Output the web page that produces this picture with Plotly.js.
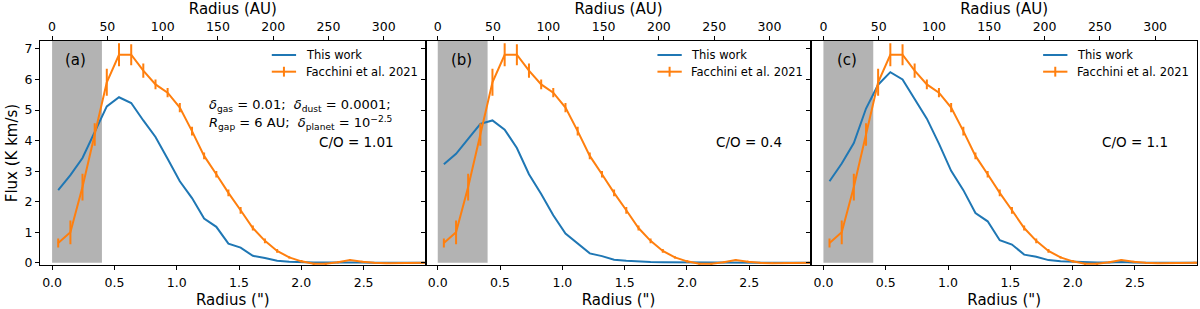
<!DOCTYPE html>
<html><head><meta charset="utf-8">
<script src="https://cdn.plot.ly/plotly-3.0.1.min.js"></script>
<style>html,body{margin:0;padding:0;background:#fff}</style>
</head><body><div id="chart" style="width:1200px;height:309px"></div>
<script>
// Radial positions (arcsec)
const radius = [0.049, 0.147, 0.244, 0.342, 0.439, 0.537, 0.635, 0.732, 0.830, 0.927, 1.025, 1.123, 1.220, 1.318, 1.415, 1.513, 1.611, 1.708, 1.806, 1.903, 2.001, 2.099, 2.196, 2.294, 2.391, 2.489, 2.587, 2.684, 2.782, 2.879, 2.977, 3.074];
// Facchini et al. 2021 observed profile and its errors
const facchiniFlux = [0.65, 1.00, 2.48, 4.20, 5.91, 6.81, 6.81, 6.29, 5.84, 5.57, 5.08, 4.31, 3.50, 2.90, 2.29, 1.72, 1.14, 0.72, 0.39, 0.18, 0.05, -0.03, -0.03, 0.02, 0.09, 0.04, 0.00, -0.01, 0.00, 0.00, 0.01, 0.01];
const facchiniErr = [0.15, 0.39, 0.44, 0.37, 0.44, 0.38, 0.34, 0.23, 0.16, 0.15, 0.15, 0.14, 0.11, 0.11, 0.11, 0.11, 0.08, 0.08, 0.06, 0.04, 0.04, 0.03, 0.03, 0.03, 0.03, 0.03, 0.03, 0.03, 0.03, 0.03, 0.03, 0.03];
// This work, three models
const fluxA = [2.38, 2.87, 3.43, 4.28, 5.12, 5.42, 5.23, 4.66, 4.12, 3.41, 2.67, 2.12, 1.45, 1.18, 0.63, 0.50, 0.23, 0.16, 0.07, 0.04, 0.02, 0.01, 0.01, 0.01, 0.03, 0.01, 0.00, 0.00, 0.00, 0.00, 0.00, 0.00];
const fluxB = [3.23, 3.57, 4.06, 4.55, 4.66, 4.36, 3.76, 2.90, 2.25, 1.56, 0.96, 0.63, 0.31, 0.22, 0.10, 0.07, 0.04, 0.03, 0.02, 0.02, 0.01, 0.01, 0.01, 0.01, 0.02, 0.01, 0.00, 0.00, 0.00, 0.00, 0.00, 0.00];
const fluxC = [2.67, 3.25, 3.92, 5.05, 5.83, 6.24, 6.00, 5.34, 4.72, 3.90, 3.01, 2.38, 1.63, 1.36, 0.74, 0.60, 0.27, 0.20, 0.09, 0.05, 0.03, 0.02, 0.01, 0.01, 0.03, 0.01, 0.00, 0.00, 0.00, 0.00, 0.00, 0.00];
const modelFluxes = [fluxA, fluxB, fluxC];
const panelLabels = ['(a)', '(b)', '(c)'];
const coLabels = ['C/O = 1.01', 'C/O = 0.4', 'C/O = 1.1'];
const seriesNames = ['This work', 'Facchini et al. 2021'];
const xTitle = 'Radius (")';
const xTopTitle = 'Radius (AU)';
const yTitle = 'Flux (K km/s)';
const paramLine1 = '<i>δ</i><sub>gas</sub> = 0.01;\u00a0\u00a0<i>δ</i><sub>dust</sub> = 0.0001;';
const paramLine2 = '<i>R</i><sub>gap</sub> = 6 AU;\u00a0\u00a0<i>δ</i><sub>planet</sub> = 10<sup>−2.5</sup>';
const gapEdge = 0.4;
const auPerArcsec = 112.7;
const xRange = [-0.097, 2.998];
const yRange = [-0.07, 7.26];

const BLUE = '#1f77b4', ORANGE = '#ff7f0e';
const FONT = 'DejaVu Sans, Liberation Sans, sans-serif';

const traces = [];
const layout = {
  width: 1200, height: 309,
  margin: {l: 40, r: 3, t: 41, b: 44},
  paper_bgcolor: '#fff', plot_bgcolor: 'rgba(0,0,0,0)',
  font: {family: FONT, size: 12, color: '#000'},
  showlegend: false,
  shapes: [], annotations: []
};

for (let p = 0; p < 3; p++) {
  const s = p === 0 ? '' : String(p + 1);
  const xa = 'x' + s, ya = 'y' + s, xt = 'x' + (p + 4);
  const d0 = p / 3, d1 = (p + 1) / 3;

  traces.push({x: radius, y: modelFluxes[p], xaxis: xa, yaxis: ya, mode: 'lines',
    line: {color: BLUE, width: 2}, name: seriesNames[0], hoverinfo: 'skip'});
  traces.push({x: radius, y: facchiniFlux, xaxis: xa, yaxis: ya, mode: 'lines',
    line: {color: ORANGE, width: 2}, name: seriesNames[1], hoverinfo: 'skip',
    error_y: {type: 'data', array: facchiniErr, visible: true, color: ORANGE, thickness: 2, width: 0}});
  traces.push({x: [], y: [], xaxis: xt, yaxis: ya, mode: 'lines', showlegend: false, hoverinfo: 'skip'});

  layout['xaxis' + s] = {
    domain: [d0, d1], anchor: ya, range: xRange, dtick: 0.5, tick0: 0,
    tickformat: '.1f', ticks: 'outside', ticklen: 4, tickwidth: 1, tickcolor: '#000',
    showline: true, linecolor: '#000', linewidth: 1, mirror: false,
    showgrid: false, zeroline: false, automargin: false, ticklabelstandoff: 2,
    tickfont: {size: 12.5, family: FONT},
    title: {text: xTitle, font: {size: 15, family: FONT}, standoff: 6}
  };
  layout['xaxis' + (p + 4)] = {
    overlaying: xa, anchor: ya, side: 'top',
    range: [xRange[0] * auPerArcsec, xRange[1] * auPerArcsec], dtick: 50, tick0: 0,
    ticks: 'outside', ticklen: 4, tickwidth: 1, tickcolor: '#000',
    showline: true, linecolor: '#000', linewidth: 1,
    showgrid: false, zeroline: false, automargin: false,
    tickfont: {size: 12.5, family: FONT},
    title: {text: xTopTitle, font: {size: 15, family: FONT}, standoff: 3}
  };
  layout['yaxis' + s] = {
    domain: [0, 1], anchor: xa, range: yRange, dtick: 1, tick0: 0,
    ticks: 'outside', ticklen: 4, tickwidth: 1, tickcolor: '#000',
    showline: true, linecolor: '#000', linewidth: 1, mirror: true,
    showgrid: false, zeroline: false, automargin: false,
    showticklabels: p === 0,
    tickfont: {size: 12.5, family: FONT}
  };
  if (p === 0) layout['yaxis' + s].title = {text: yTitle, font: {size: 15, family: FONT}, standoff: 3};

  // Gap region
  layout.shapes.push({type: 'rect', xref: xa, yref: ya, x0: 0, x1: gapEdge, y0: 0, y1: yRange[1],
    fillcolor: '#b3b3b3', line: {width: 0}, layer: 'below'});

  // Legend (drawn inside each panel, upper right)
  const xd = xa + ' domain', yd = ya + ' domain';
  layout.shapes.push({type: 'line', xref: xd, yref: yd, x0: 0.601, x1: 0.664, y0: 0.9375, y1: 0.9375,
    line: {color: BLUE, width: 2}});
  layout.shapes.push({type: 'line', xref: xd, yref: yd, x0: 0.601, x1: 0.664, y0: 0.863, y1: 0.863,
    line: {color: ORANGE, width: 2}});
  layout.shapes.push({type: 'line', xref: xd, yref: yd, x0: 0.6325, x1: 0.6325, y0: 0.841, y1: 0.885,
    line: {color: ORANGE, width: 2}});
  layout.annotations.push({xref: xd, yref: yd, x: 0.684, y: 0.9375, xanchor: 'left', yanchor: 'middle',
    text: seriesNames[0], showarrow: false, font: {size: 11.5, family: FONT, color: '#000'}});
  layout.annotations.push({xref: xd, yref: yd, x: 0.684, y: 0.863, xanchor: 'left', yanchor: 'middle',
    text: seriesNames[1], showarrow: false, font: {size: 11.5, family: FONT, color: '#000'}});

  // Panel label
  layout.annotations.push({xref: xd, yref: yd, x: 0.092, y: 0.915, xanchor: 'center', yanchor: 'middle',
    text: panelLabels[p], showarrow: false, font: {size: 15, family: FONT, color: '#000'}});
  // C/O label
  layout.annotations.push({xref: xd, yref: yd, x: p === 0 ? 0.922 : 0.929, y: 0.549, xanchor: 'right', yanchor: 'middle',
    text: coLabels[p], showarrow: false, font: {size: 13.5, family: FONT, color: '#000'}});
}

// Model parameters text in panel (a)
layout.annotations.push({xref: 'x domain', yref: 'y domain', x: 0.434, y: 0.714, xanchor: 'left', yanchor: 'middle',
  text: paramLine1, showarrow: false, font: {size: 13, family: FONT, color: '#000'}});
layout.annotations.push({xref: 'x domain', yref: 'y domain', x: 0.434, y: 0.632, xanchor: 'left', yanchor: 'middle',
  text: paramLine2, showarrow: false, font: {size: 13, family: FONT, color: '#000'}});

Plotly.newPlot('chart', traces, layout, {staticPlot: true, displayModeBar: false});
</script>
</body></html>
